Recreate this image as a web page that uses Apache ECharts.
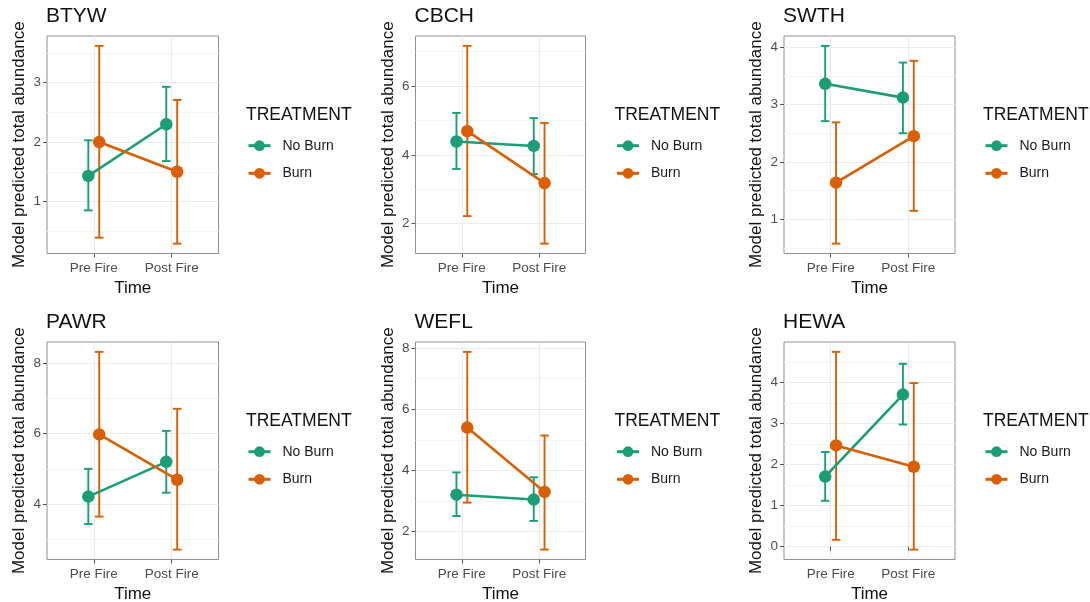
<!DOCTYPE html>
<html><head><meta charset="utf-8">
<script src="https://cdn.jsdelivr.net/npm/echarts@6/dist/echarts.min.js"></script>
<style>html,body{margin:0;padding:0;background:#fff}#chart{width:1090px;height:602px}</style>
</head><body><div id="chart"></div>
<script>
// ---- data ----
const timeLabels = ['Pre Fire', 'Post Fire'];
const treatments = ['No Burn', 'Burn'];
const species = ['BTYW', 'CBCH', 'SWTH', 'PAWR', 'WEFL', 'HEWA'];
// [Pre Fire, Post Fire] per species
const noBurnMean  = [[1.43, 2.30], [4.39, 4.26], [3.36, 3.12], [4.21, 5.20], [3.20, 3.04], [1.71, 3.71]];
const noBurnLower = [[0.85, 1.68], [3.59, 3.44], [2.71, 2.50], [3.43, 4.32], [2.50, 2.34], [1.12, 2.98]];
const noBurnUpper = [[2.03, 2.93], [5.22, 5.07], [4.02, 3.73], [5.00, 6.08], [3.93, 3.77], [2.31, 4.46]];
const burnMean    = [[2.00, 1.50], [4.69, 3.18], [1.64, 2.45], [5.98, 4.69], [5.40, 3.29], [2.47, 1.95]];
const burnLower   = [[0.39, 0.29], [2.22, 1.42], [0.58, 1.15], [3.64, 2.70], [2.94, 1.40], [0.17, -0.07]];
const burnUpper   = [[3.62, 2.71], [7.17, 4.93], [2.69, 3.76], [8.33, 6.71], [7.88, 5.14], [4.75, 3.99]];
const yMajorTicks = [[1, 2, 3], [2, 4, 6], [1, 2, 3, 4], [4, 6, 8], [2, 4, 6, 8], [0, 1, 2, 3, 4]];
const yMinorTicks = [[0.5, 1.5, 2.5, 3.5], [3, 5, 7], [0.5, 1.5, 2.5, 3.5], [3, 5, 7], [3, 5, 7], [0.5, 1.5, 2.5, 3.5, 4.5]];

// ---- layout / style ----
const colors = ['#1B9E77', '#D95F02'];
const panelLefts = [47, 415.5, 784];
const panelWidths = [171.5, 170, 171];
const rowTops = [36, 342];
const panelHeight = 217.5;
const dodge = 0.07;
const capHalf = 0.055;
const FONT = '"Liberation Sans", Arial, Helvetica, sans-serif';

function errorBarItem(params, api) {
  const x = api.value(0);
  const top = api.coord([x, api.value(2)]);
  const bot = api.coord([x, api.value(1)]);
  const l = api.coord([x - capHalf, api.value(1)])[0];
  const r = api.coord([x + capHalf, api.value(1)])[0];
  const style = { stroke: api.visual('color'), lineWidth: 1.9, fill: null };
  return {
    type: 'group', children: [
      { type: 'line', shape: { x1: top[0], y1: top[1], x2: bot[0], y2: bot[1] }, style: style },
      { type: 'line', shape: { x1: l, y1: top[1], x2: r, y2: top[1] }, style: style },
      { type: 'line', shape: { x1: l, y1: bot[1], x2: r, y2: bot[1] }, style: style }
    ]
  };
}

const grids = [], xAxes = [], yAxes = [], series = [], legends = [], titles = [];
species.forEach(function (sp, i) {
  const col = i % 3, row = Math.floor(i / 3);
  const left = panelLefts[col], top = rowTops[row];
  const groups = [
    { mean: noBurnMean[i], lo: noBurnLower[i], hi: noBurnUpper[i], off: -dodge },
    { mean: burnMean[i], lo: burnLower[i], hi: burnUpper[i], off: dodge }
  ];
  const allLo = Math.min.apply(null, noBurnLower[i].concat(burnLower[i]));
  const allHi = Math.max.apply(null, noBurnUpper[i].concat(burnUpper[i]));
  const pad = (allHi - allLo) * 0.05;

  grids.push({ left: left, top: top, width: panelWidths[col], height: panelHeight,
    show: true, borderColor: '#8f8f8f', borderWidth: 1, backgroundColor: '#fff',
    containLabel: false, outerBoundsMode: 'none' });

  xAxes.push({
    gridIndex: i, type: 'value', min: 0.4, max: 2.6,
    axisLine: { show: false },
    axisTick: { show: true, customValues: [1, 2], length: 4, lineStyle: { color: '#555', width: 1 } },
    axisLabel: { customValues: [1, 2], formatter: function (v) { return timeLabels[Math.round(v) - 1]; },
      fontSize: 13.5, color: '#4d4d4d', margin: 8, fontFamily: FONT },
    splitLine: { show: true, lineStyle: { color: '#ebebeb', width: 1.2 } },
    name: 'Time', nameLocation: 'middle', nameGap: 26,
    nameTextStyle: { fontSize: 17, color: '#111', fontFamily: FONT }
  });
  yAxes.push({
    gridIndex: i, type: 'value', min: allLo - pad, max: allHi + pad, position: 'left',
    axisLine: { show: false },
    axisTick: { show: true, customValues: yMajorTicks[i], length: 4, lineStyle: { color: '#555', width: 1 } },
    axisLabel: { customValues: yMajorTicks[i], fontSize: 13.5, color: '#4d4d4d', margin: 6, fontFamily: FONT },
    splitLine: { show: true, lineStyle: { color: '#ebebeb', width: 1.2 } },
    name: 'Model predicted total abundance', nameLocation: 'middle', nameGap: 19, nameRotate: 90,
    nameTextStyle: { fontSize: 17, color: '#111', fontFamily: FONT }
  });
  yAxes.push({
    gridIndex: i, type: 'value', min: allLo - pad, max: allHi + pad, position: 'left',
    axisLine: { show: false },
    axisTick: { show: false, customValues: yMinorTicks[i] },
    axisLabel: { show: false, customValues: yMinorTicks[i] },
    splitLine: { show: true, lineStyle: { color: '#f4f4f4', width: 1 } }
  });

  groups.forEach(function (g, k) {
    series.push({
      type: 'custom', name: treatments[k] + ' CI', xAxisIndex: i, yAxisIndex: 2 * i,
      renderItem: errorBarItem, itemStyle: { color: colors[k] },
      encode: { x: 0, y: [1, 2] }, z: 2,
      data: g.mean.map(function (m, t) { return [t + 1 + g.off, g.lo[t], g.hi[t]]; })
    });
  });
  groups.forEach(function (g, k) {
    series.push({
      type: 'line', name: treatments[k], xAxisIndex: i, yAxisIndex: 2 * i,
      symbol: 'circle', symbolSize: 12.5, showSymbol: true, z: 3,
      itemStyle: { color: colors[k] }, lineStyle: { color: colors[k], width: 2.6 },
      data: g.mean.map(function (m, t) { return [t + 1 + g.off, m]; })
    });
  });

  titles.push({ text: sp, left: left - 1, top: top - 30, padding: 0,
    textStyle: { fontSize: 21, fontWeight: 'normal', color: '#111', fontFamily: FONT } });
  titles.push({ text: 'TREATMENT', left: left + 199, top: top + 70, padding: 0,
    textStyle: { fontSize: 17.5, fontWeight: 'normal', color: '#111', fontFamily: FONT } });
  legends.push({
    orient: 'vertical', left: left + 200, top: top + 102.7, padding: 0,
    itemWidth: 22, itemHeight: 13.5, itemGap: 13.6, selectedMode: false,
    data: treatments,
    lineStyle: { width: 3 },
    textStyle: { fontSize: 14, lineHeight: 14, color: '#1a1a1a', fontFamily: FONT, padding: [0, 0, 0, 7] }
  });
});

const chart = echarts.init(document.getElementById('chart'), null, { renderer: 'canvas' });
chart.setOption({
  animation: false,
  backgroundColor: '#fff',
  textStyle: { fontFamily: FONT },
  title: titles, grid: grids, xAxis: xAxes, yAxis: yAxes, legend: legends, series: series
});
</script>
</body></html>
